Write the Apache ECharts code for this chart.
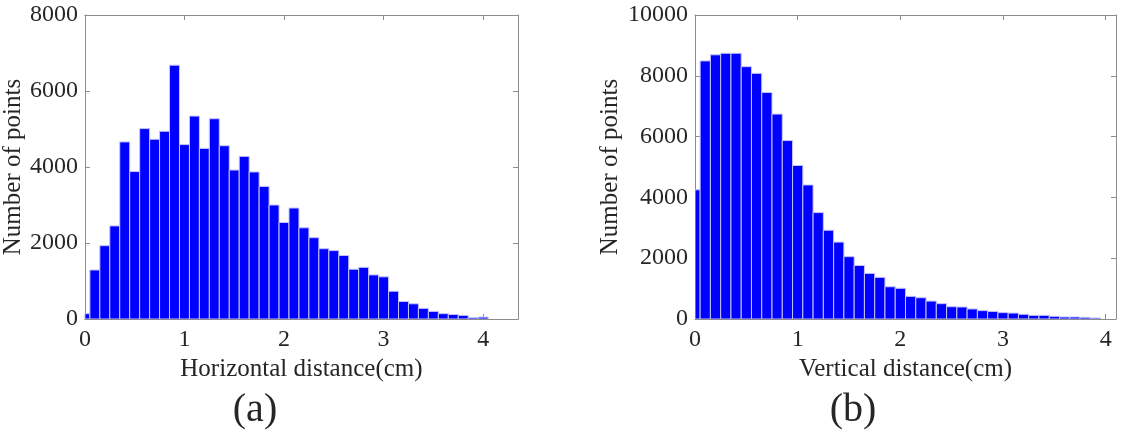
<!DOCTYPE html>
<html>
<head>
<meta charset="utf-8">
<script src="https://cdn.jsdelivr.net/npm/echarts@6/dist/echarts.min.js"></script>
<style>
  html, body { margin: 0; padding: 0; background: #fff; }
  #chart { width: 1126px; height: 437px; }
</style>
</head>
<body>
<div id="chart"></div>
<script>
// bin centres (cm), bin width 0.1
const binWidth = 0.1
const horizCenters = [0, 0.1, 0.2, 0.3, 0.4, 0.5, 0.6, 0.7, 0.8, 0.9, 1.0, 1.1, 1.2, 1.3, 1.4, 1.5, 1.6, 1.7, 1.8, 1.9,
    2.0, 2.1, 2.2, 2.3, 2.4, 2.5, 2.6, 2.7, 2.8, 2.9, 3.0, 3.1, 3.2, 3.3, 3.4, 3.5, 3.6, 3.7, 3.8, 3.9, 4.0]
const horizCounts = [140, 1290, 1930, 2450, 4660, 3880, 5010, 4730, 4940, 6680, 4590, 5340, 4490, 5270, 4560, 3920, 4280, 3870, 3490, 3000,
    2540, 2920, 2400, 2140, 1850, 1800, 1670, 1310, 1360, 1160, 1110, 730, 460, 400, 280, 200, 140, 120, 95, 35, 50]

const vertCenters = [0, 0.1, 0.2, 0.3, 0.4, 0.5, 0.6, 0.7, 0.8, 0.9, 1.0, 1.1, 1.2, 1.3, 1.4, 1.5, 1.6, 1.7, 1.8, 1.9,
    2.0, 2.1, 2.2, 2.3, 2.4, 2.5, 2.6, 2.7, 2.8, 2.9, 3.0, 3.1, 3.2, 3.3, 3.4, 3.5, 3.6, 3.7, 3.8, 3.9]
const vertCounts = [4250, 8490, 8690, 8740, 8740, 8300, 8080, 7450, 6740, 5870, 5050, 4410, 3500, 2920, 2530, 2050, 1760, 1500, 1370, 1060,
    1010, 745, 700, 590, 505, 405, 395, 330, 275, 250, 210, 195, 155, 120, 120, 88, 66, 66, 55, 33]

const xTicks = [0, 1, 2, 3, 4]
const horizYTicks = [0, 2000, 4000, 6000, 8000]
const vertYTicks = [0, 2000, 4000, 6000, 8000, 10000]

const font = 'Liberation Serif'
const frameColor = '#8c8c8c'
const textColor = '#262626'

const chart = echarts.init(document.getElementById('chart'))

function renderBar(params, api) {
    const x = api.value(0)
    const y = api.value(1)
    const lo = Math.max(x - binWidth / 2, 0)
    const p0 = api.coord([lo, y])
    const p1 = api.coord([x + binWidth / 2, 0])
    return {
        type: 'rect',
        shape: { x: p0[0], y: p0[1], width: p1[0] - p0[0], height: p1[1] - p0[1] },
        style: { fill: '#0000ff', stroke: '#c4c4ff', lineWidth: 1 }
    }
}

function xAxes(gridIndex, max, name, pos) {
    const base = {
        gridIndex,
        type: 'value',
        min: 0,
        max,
        interval: 1,
        position: pos,
        splitLine: { show: false },
        axisLine: { show: true, onZero: false, lineStyle: { color: frameColor, width: 1 } },
        axisTick: { show: true, inside: true, length: 5, lineStyle: { color: frameColor } }
    }
    if (pos === 'bottom') {
        return {
            ...base,
            name,
            nameLocation: 'middle',
            nameGap: 31,
            nameTextStyle: { fontFamily: font, fontSize: 25, color: textColor },
            axisLabel: {
                show: true, margin: 9, showMaxLabel: false,
                fontFamily: font, fontSize: 24, color: textColor,
                formatter: v => xTicks.includes(v) ? String(v) : ''
            }
        }
    }
    return { ...base, axisLabel: { show: false } }
}

function yAxes(gridIndex, ticks, name, gap, pos) {
    const base = {
        gridIndex,
        type: 'value',
        min: ticks[0],
        max: ticks[ticks.length - 1],
        interval: ticks[1] - ticks[0],
        position: pos,
        splitLine: { show: false },
        axisLine: { show: true, onZero: false, lineStyle: { color: frameColor, width: 1 } },
        axisTick: { show: true, inside: true, length: 5, lineStyle: { color: frameColor } }
    }
    if (pos === 'left') {
        return {
            ...base,
            name,
            nameLocation: 'middle',
            nameGap: gap,
            nameTextStyle: { fontFamily: font, fontSize: 25, color: textColor },
            axisLabel: {
                show: true, margin: 7, fontFamily: font, fontSize: 24, color: textColor,
                formatter: v => String(v)
            }
        }
    }
    return { ...base, axisLabel: { show: false } }
}

const option = {
    animation: false,
    backgroundColor: '#ffffff',
    grid: [
        { left: 83, right: 608, top: 15, bottom: 118 },
        { left: 695, right: 10, top: 15, bottom: 118 }
    ],
    xAxis: [
        xAxes(0, 4.35, 'Horizontal distance(cm)', 'bottom'),
        xAxes(0, 4.35, '', 'top'),
        xAxes(1, 4.1, 'Vertical distance(cm)', 'bottom'),
        xAxes(1, 4.1, '', 'top')
    ],
    yAxis: [
        yAxes(0, horizYTicks, 'Number of points', 57, 'left'),
        yAxes(0, horizYTicks, '', 0, 'right'),
        yAxes(1, vertYTicks, 'Number of points', 72, 'left'),
        yAxes(1, vertYTicks, '', 0, 'right')
    ],
    series: [
        {
            type: 'custom',
            xAxisIndex: 0,
            yAxisIndex: 0,
            renderItem: renderBar,
            clip: true,
            data: horizCenters.map((c, i) => [c, horizCounts[i]])
        },
        {
            type: 'custom',
            xAxisIndex: 2,
            yAxisIndex: 2,
            renderItem: renderBar,
            clip: true,
            data: vertCenters.map((c, i) => [c, vertCounts[i]])
        }
    ],
    graphic: [
        {
            type: 'text', x: 255, y: 410,
            style: { text: '(a)', fontFamily: font, fontSize: 40, fill: textColor, textAlign: 'center', textVerticalAlign: 'middle' }
        },
        {
            type: 'text', x: 853, y: 410,
            style: { text: '(b)', fontFamily: font, fontSize: 40, fill: textColor, textAlign: 'center', textVerticalAlign: 'middle' }
        }
    ]
}

chart.setOption(option)
</script>
</body>
</html>
